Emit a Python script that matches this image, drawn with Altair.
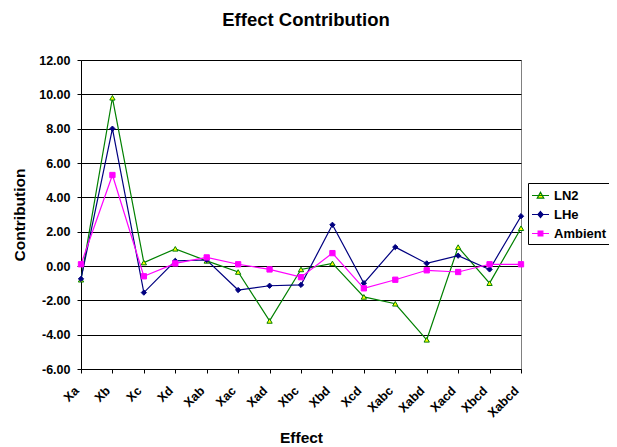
import altair as alt
import pandas as pd

categories = ["Xa", "Xb", "Xc", "Xd", "Xab", "Xac", "Xad", "Xbc", "Xbd",
              "Xcd", "Xabc", "Xabd", "Xacd", "Xbcd", "Xabcd"]
series_names = ["LN2", "LHe", "Ambient"]
ln2 = [-0.8, 9.8, 0.2, 1.0, 0.3, -0.35, -3.2, -0.2, 0.15, -1.8, -2.2, -4.3, 1.1, -1.0, 2.2]
lhe = [-0.75, 8.0, -1.55, 0.3, 0.35, -1.4, -1.15, -1.1, 2.4, -1.0, 1.1, 0.15, 0.6, -0.2, 2.9]
amb = [0.1, 5.3, -0.6, 0.15, 0.5, 0.1, -0.2, -0.65, 0.75, -1.3, -0.8, -0.25, -0.35, 0.1, 0.1]

line_colors = ["#008000", "#000080", "#FF00FF"]
fill_colors = ["#FFFF00", "#000080", "#FF00FF"]
plot_shapes = ["triangle-up", "diamond", "square"]
legend_shapes = [
    "M-1,0H1M0,-0.38L0.38,0.3H-0.38Z",
    "M-1,0H1M0,-0.35L0.3,0L0,0.35L-0.3,0Z",
    "M-1,0H1M-0.28,-0.28H0.28V0.28H-0.28Z",
]

rows = []
for name, vals in zip(series_names, [ln2, lhe, amb]):
    for c, v in zip(categories, vals):
        rows.append({"effect": c, "series": name, "value": v})
df = pd.DataFrame(rows)

FONT = "Liberation Sans"

x = alt.X("effect:N", sort=categories,
          scale=alt.Scale(domain=categories, padding=0),
          axis=alt.Axis(title="Effect", labelAngle=-45, labelAlign="right",
                        labelBaseline="top", labelFont=FONT, labelFontSize=12.5,
                        labelFontWeight="bold", labelColor="black",
                        labelPadding=11, labelOffset=-9,
                        titleFont=FONT, titleFontSize=15.5, titleFontWeight="bold",
                        titleColor="black", titlePadding=11,
                        domainColor="black", tickColor="black", tickSize=4,
                        grid=False))
y = alt.Y("value:Q",
          scale=alt.Scale(domain=[-6, 12], nice=False, zero=False),
          axis=alt.Axis(title="Contribution", values=list(range(-6, 13, 2)),
                        labelExpr="replace(format(datum.value, '.2f'), '\u2212', '-')",
                        labelFont=FONT, labelFontSize=12.5, labelFontWeight="bold",
                        labelColor="black", labelPadding=7,
                        titleFont=FONT, titleFontSize=15.5, titleFontWeight="bold",
                        titleColor="black", titlePadding=11,
                        domainColor="black", tickColor="black", tickSize=4,
                        grid=True, gridColor="black", gridWidth=1))

stroke_scale = alt.Scale(domain=series_names, range=line_colors)
fill_scale = alt.Scale(domain=series_names, range=fill_colors)

base = alt.Chart(df)
lines = base.mark_line(strokeWidth=1.2).encode(
    x=x, y=y,
    stroke=alt.Stroke("series:N", scale=stroke_scale, legend=None),
)
points = base.mark_point(filled=True, opacity=1, size=28, strokeWidth=1).encode(
    x=x, y=y,
    shape=alt.Shape("series:N", scale=alt.Scale(domain=series_names, range=plot_shapes), legend=None),
    stroke=alt.Stroke("series:N", scale=stroke_scale, legend=None),
    fill=alt.Fill("series:N", scale=fill_scale, legend=None),
)
layer_a = alt.layer(lines, points)

leg = alt.Legend(orient="none", legendX=447, legendY=123, title=None,
                 strokeColor="black", fillColor="white", padding=3,
                 labelFont=FONT, labelFontSize=13, labelFontWeight="bold",
                 labelColor="black", labelOffset=4, rowPadding=2,
                 symbolSize=289, symbolStrokeWidth=1.2)
legend_layer = base.mark_point(filled=True, opacity=1).encode(
    x=x, y=y,
    shape=alt.Shape("series:N", scale=alt.Scale(domain=series_names, range=legend_shapes), legend=leg),
    stroke=alt.Stroke("series:N", scale=stroke_scale, legend=leg),
    fill=alt.Fill("series:N", scale=fill_scale, legend=leg),
).transform_filter("false")

chart = alt.layer(layer_a, legend_layer).resolve_scale(
    shape="independent", stroke="independent", fill="independent"
).properties(
    width=440, height=309,
    title=alt.Title("Effect Contribution", font=FONT, fontSize=18.5,
                    fontWeight="bold", color="black", anchor="middle",
                    offset=25, dx=5),
    autosize=alt.AutoSizeParams(type="none"),
    padding={"left": 73, "top": 52, "right": 88, "bottom": 78},
).configure_view(stroke="#808080", strokeWidth=1)

chart.save("out.html", embed_options={"renderer": "svg", "actions": False})
